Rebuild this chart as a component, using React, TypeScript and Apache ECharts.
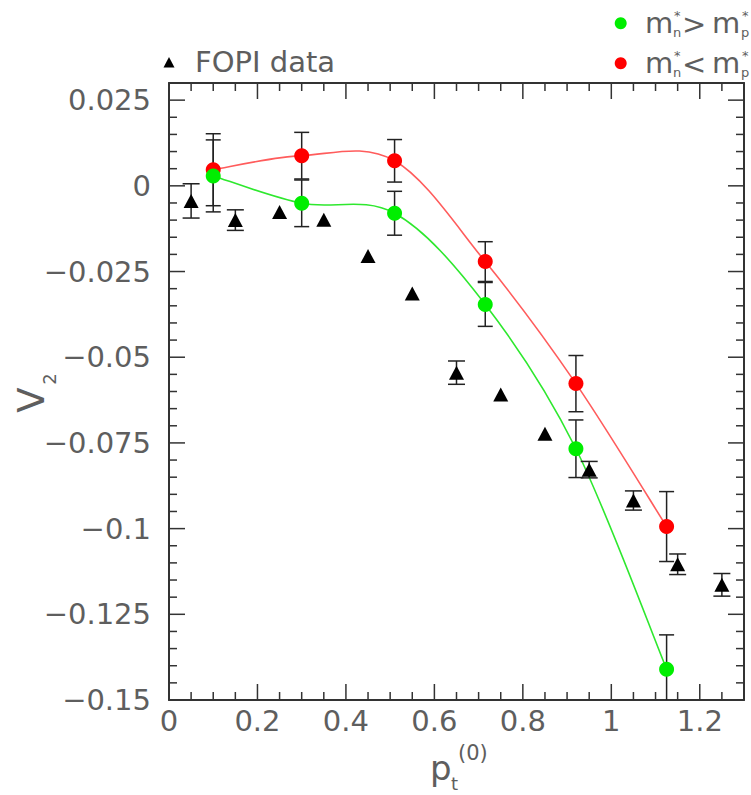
import React, { useEffect, useRef } from "react";
import * as echarts from "echarts";

// FOPI measurements
const fopiX = [0.05, 0.15, 0.25, 0.35, 0.45, 0.55, 0.65, 0.75, 0.85, 0.95, 1.05, 1.15, 1.25];
const fopiY = [-0.0044, -0.01, -0.0076, -0.0099, -0.0205, -0.0314, -0.0545, -0.0609, -0.0723, -0.0828, -0.0918, -0.1104, -0.1164];
const fopiErr = [0.005, 0.003, 0, 0, 0, 0, 0.0034, 0, 0, 0.0024, 0.0028, 0.003, 0.0033];

// model points
const modelX = [0.1, 0.3, 0.51, 0.715, 0.92, 1.125];
const heavyNeutronY = [0.0029, -0.0051, -0.008, -0.0346, -0.0767, -0.141];
const heavyNeutronErr = [0.0105, 0.0068, 0.0064, 0.0064, 0.0084, 0.01];
const lightNeutronY = [0.0047, 0.0088, 0.0073, -0.0221, -0.0577, -0.0994];
const lightNeutronErr = [0.0105, 0.0068, 0.0062, 0.0058, 0.0082, 0.0102];

// axes
const X_MIN = 0;
const X_MAX = 1.3;
const X_MAJOR = 0.2;
const X_MINOR = 0.05;
const Y_MIN = -0.15;
const Y_MAX = 0.03;
const Y_MAJOR = 0.025;
const Y_MINOR = 0.005;

const FONT = "DejaVu Sans";
const TEXT = "#5e5e5e";
const AXIS = "#333";

const pairs = (xs: number[], ys: number[]) => xs.map((x, i) => [x, ys[i]]);
const bars = (xs: number[], ys: number[], es: number[], cap: number) =>
  xs.map((x, i) => [x, ys[i], es[i], cap]);

// tick values strictly inside [lo, hi], flagged major/minor
function tickValues(lo: number, hi: number, minor: number, major: number) {
  const out: { v: number; major: boolean }[] = [];
  const n = Math.round((hi - lo) / minor);
  for (let k = 1; k < n; k++) {
    const v = +(lo + k * minor).toFixed(4);
    out.push({ v, major: Math.abs(v / major - Math.round(v / major)) < 1e-6 });
  }
  return out;
}

export default function App() {
  const ref = useRef<HTMLDivElement>(null);

  useEffect(() => {
    if (!ref.current) return;
    const chart = echarts.init(ref.current, null, { renderer: "svg" });

    const errorBars = (data: number[][]) => ({
      type: "custom",
      z: 3,
      silent: true,
      data,
      encode: { x: 0, y: 1 },
      renderItem: (params: any, api: any) => {
        const x = api.value(0);
        const y = api.value(1);
        const e = api.value(2);
        const w = api.value(3) / 2;
        if (!e) return { type: "group", children: [] };
        const top = api.coord([x, y + e]);
        const bot = api.coord([x, y - e]);
        const cs = params.coordSys;
        const yLimit = cs.y + cs.height;
        const botY = Math.min(bot[1], yLimit);
        const style = { stroke: "#222", lineWidth: 1.5 };
        const children: any[] = [
          { type: "line", shape: { x1: top[0], y1: top[1], x2: top[0], y2: botY }, style },
          { type: "line", shape: { x1: top[0] - w, y1: top[1], x2: top[0] + w, y2: top[1] }, style },
        ];
        if (bot[1] <= yLimit) {
          children.push({ type: "line", shape: { x1: bot[0] - w, y1: bot[1], x2: bot[0] + w, y2: bot[1] }, style });
        }
        return { type: "group", children };
      },
    });

    // Catmull-Rom spline through the model points, one bezier segment per point
    const spline = (xs: number[], ys: number[], color: string) => ({
      type: "custom",
      z: 2,
      silent: true,
      data: pairs(xs, ys),
      encode: { x: 0, y: 1 },
      renderItem: (params: any, api: any) => {
        const i = params.dataIndex;
        const n = xs.length;
        if (i >= n - 1) return { type: "group", children: [] };
        const p = (k: number) => {
          const j = Math.max(0, Math.min(n - 1, k));
          return api.coord([xs[j], ys[j]]);
        };
        const p0 = p(i - 1);
        const p1 = p(i);
        const p2 = p(i + 1);
        const p3 = p(i + 2);
        return {
          type: "bezierCurve",
          shape: {
            x1: p1[0],
            y1: p1[1],
            cpx1: p1[0] + (p2[0] - p0[0]) / 6,
            cpy1: p1[1] + (p2[1] - p0[1]) / 6,
            cpx2: p2[0] - (p3[0] - p1[0]) / 6,
            cpy2: p2[1] - (p3[1] - p1[1]) / 6,
            x2: p2[0],
            y2: p2[1],
          },
          style: { stroke: color, lineWidth: 1.6, fill: "none" },
        };
      },
    });

    const txt = (text: string, x: number, y: number, size: number, extra: any = {}, rotation = 0) => ({
      type: "text",
      x,
      y,
      rotation,
      z: 20,
      style: {
        text,
        fontFamily: FONT,
        fontSize: size,
        fill: TEXT,
        verticalAlign: "middle",
        ...extra,
      },
    });

    // m*_n ? m*_p legend entry
    const massLabel = (rel: string, y: number) => [
      txt("m", 645, y, 29),
      txt("n", 673, y + 9, 13),
      txt("*", 674, y - 8, 13),
      txt(rel, 682, y + 1, 29),
      txt("m", 712, y, 29),
      txt("p", 741, y + 9, 13),
      txt("*", 742, y - 8, 13),
    ];

    const baseGraphic: any[] = [
      // FOPI legend
      {
        type: "polygon",
        z: 20,
        shape: { points: [[163.5, 67.5], [174.5, 67.5], [169, 57]] },
        style: { fill: "#000" },
      },
      txt("FOPI data", 195, 62, 29),
      // model legend
      { type: "circle", z: 20, shape: { cx: 620.7, cy: 23.3, r: 6 }, style: { fill: "#00ee00" } },
      { type: "circle", z: 20, shape: { cx: 620.7, cy: 63.3, r: 6 }, style: { fill: "#ff0000" } },
      ...massLabel(">", 23),
      ...massLabel("<", 63),
      // y-axis title V_2, reading bottom to top
      txt("V", 31, 400, 37, { align: "center" }, Math.PI / 2),
      txt("2", 49, 379, 18, { align: "center" }, Math.PI / 2),
      // x-axis title p_t^(0)
      txt("p", 430, 768, 34),
      txt("t", 451, 783, 18),
      txt("(0)", 458, 753, 21),
    ];

    const frameLine = () => ({ show: true, onZero: false, lineStyle: { color: AXIS, width: 2 } });

    chart.setOption({
      animation: false,
      backgroundColor: "#fff",
      grid: { left: 169, right: 7, top: 83, bottom: 95, containLabel: false, outerBoundsMode: "none" },
      xAxis: [
        {
          type: "value",
          position: "bottom",
          min: X_MIN,
          max: X_MAX,
          interval: X_MAJOR,
          splitLine: { show: false },
          axisLine: frameLine(),
          axisTick: { show: false },
          axisLabel: {
            show: true,
            margin: 6,
            fontFamily: FONT,
            fontSize: 29,
            color: TEXT,
            showMaxLabel: false,
            formatter: (v: number) => String(+v.toFixed(2)),
          },
        },
        {
          type: "value",
          position: "top",
          min: X_MIN,
          max: X_MAX,
          interval: X_MAJOR,
          splitLine: { show: false },
          axisLine: frameLine(),
          axisTick: { show: false },
          axisLabel: { show: false },
        },
      ],
      yAxis: [
        {
          type: "value",
          position: "left",
          min: Y_MIN,
          max: Y_MAX,
          interval: Y_MAJOR,
          splitLine: { show: false },
          axisLine: frameLine(),
          axisTick: { show: false },
          axisLabel: {
            show: true,
            margin: 18,
            fontFamily: FONT,
            fontSize: 29,
            color: TEXT,
            showMaxLabel: false,
            formatter: (v: number) => (Math.abs(v) < 1e-9 ? "0" : String(+v.toFixed(3)).replace("-", "\u2212")),
          },
        },
        {
          type: "value",
          position: "right",
          min: Y_MIN,
          max: Y_MAX,
          interval: Y_MAJOR,
          splitLine: { show: false },
          axisLine: frameLine(),
          axisTick: { show: false },
          axisLabel: { show: false },
        },
      ],
      series: [
        spline(modelX, lightNeutronY, "#ff5c5c"),
        spline(modelX, heavyNeutronY, "#2ee82e"),
        errorBars(bars(fopiX, fopiY, fopiErr, 17)),
        errorBars(bars(modelX, lightNeutronY, lightNeutronErr, 15)),
        errorBars(bars(modelX, heavyNeutronY, heavyNeutronErr, 15)),
        {
          type: "scatter",
          data: pairs(fopiX, fopiY),
          symbol: "triangle",
          symbolSize: [15, 14],
          itemStyle: { color: "#000", opacity: 1 },
          z: 4,
        },
        {
          type: "scatter",
          data: pairs(modelX, lightNeutronY),
          symbol: "circle",
          symbolSize: 15,
          itemStyle: { color: "#ff0000", opacity: 1 },
          z: 5,
        },
        {
          type: "scatter",
          data: pairs(modelX, heavyNeutronY),
          symbol: "circle",
          symbolSize: 15,
          itemStyle: { color: "#00ee00", opacity: 1 },
          z: 6,
        },
      ],
      graphic: baseGraphic,
    });

    // frame ticks on all four sides, pointing into the plot
    const toPx = (x: number, y: number) => chart.convertToPixel({ gridIndex: 0 }, [x, y]) as number[];
    const tickStyle = { stroke: AXIS, lineWidth: 1.5 };
    const tickEls: any[] = [];
    tickValues(X_MIN, X_MAX, X_MINOR, X_MAJOR).forEach(({ v, major }) => {
      const len = major ? 16 : 8;
      const b = toPx(v, Y_MIN);
      const t = toPx(v, Y_MAX);
      tickEls.push({ type: "line", z: 30, shape: { x1: b[0], y1: b[1], x2: b[0], y2: b[1] - len }, style: tickStyle });
      tickEls.push({ type: "line", z: 30, shape: { x1: t[0], y1: t[1], x2: t[0], y2: t[1] + len }, style: tickStyle });
    });
    tickValues(Y_MIN, Y_MAX, Y_MINOR, Y_MAJOR).forEach(({ v, major }) => {
      const len = major ? 16 : 8;
      const l = toPx(X_MIN, v);
      const r = toPx(X_MAX, v);
      tickEls.push({ type: "line", z: 30, shape: { x1: l[0], y1: l[1], x2: l[0] + len, y2: l[1] }, style: tickStyle });
      tickEls.push({ type: "line", z: 30, shape: { x1: r[0], y1: r[1], x2: r[0] - len, y2: r[1] }, style: tickStyle });
    });
    chart.setOption({ graphic: [...baseGraphic, ...tickEls] });

    return () => chart.dispose();
  }, []);

  return (
    <div
      ref={ref}
      style={{ position: "fixed", left: 0, top: 0, width: 751, height: 795, background: "#fff" }}
    />
  );
}
